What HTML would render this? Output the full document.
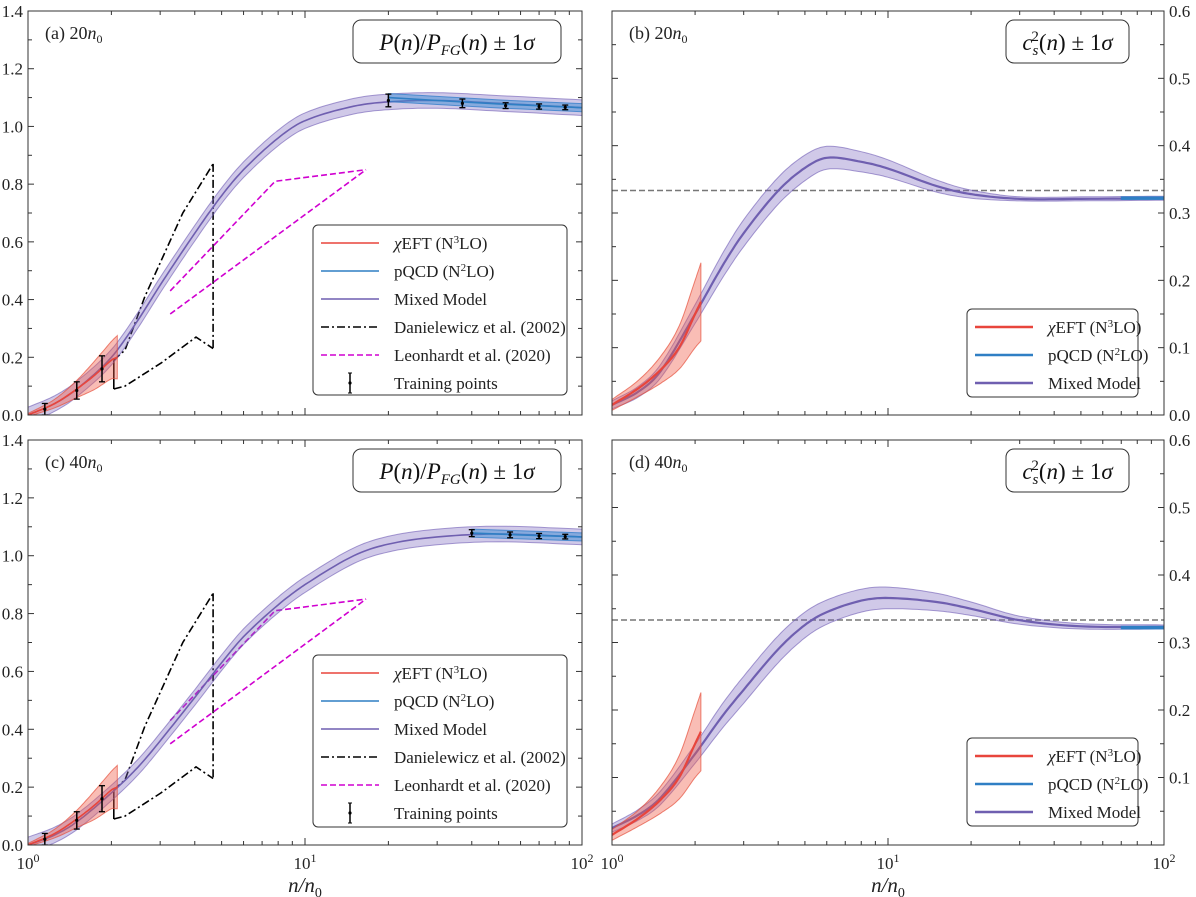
<!DOCTYPE html>
<html><head><meta charset="utf-8">
<style>
body{margin:0;background:#fff;}
svg{display:block;font-family:"Liberation Serif",serif;}
</style></head>
<body>
<svg id="fig" width="1196" height="897" viewBox="0 0 1196 897" xmlns="http://www.w3.org/2000/svg"></svg>
<script>
// ---------- data ----------
const nGrid = [1,1.25,1.5,2,2.5,3,4,5,6,8,10,15,20,30,50,100];
const mixedA = [0,0.04,0.09,0.2,0.33,0.45,0.63,0.76,0.85,0.96,1.02,1.07,1.085,1.09,1.08,1.065];
const mixedC = [0,0.035,0.08,0.18,0.27,0.36,0.51,0.63,0.72,0.83,0.9,1.0,1.04,1.065,1.075,1.065];
const mixedB = [0.015,0.035,0.065,0.15,0.22,0.27,0.333,0.367,0.382,0.376,0.366,0.34,0.328,0.321,0.321,0.322];
const mixedD = [0.025,0.045,0.07,0.135,0.19,0.23,0.29,0.326,0.345,0.362,0.366,0.36,0.35,0.333,0.324,0.323];
const errP = 0.027;
const errCsB = [0.006,0.008,0.01,0.014,0.018,0.02,0.02,0.019,0.017,0.015,0.013,0.009,0.006,0.003,0.003,0.003];
const errCsD = [0.006,0.008,0.01,0.014,0.018,0.02,0.02,0.019,0.018,0.017,0.016,0.013,0.01,0.006,0.004,0.003];
const eftN = [1,1.25,1.5,1.75,2,2.1];
const eftP = [0,0.04,0.09,0.14,0.19,0.2];
const eftPErr = [0.005,0.015,0.03,0.05,0.065,0.075];
const eftCs = [0.015,0.04,0.067,0.1,0.15,0.168];
const eftCsErr = [0.008,0.012,0.02,0.032,0.05,0.058];
const pqN_A = [20,30,50,100];
const pqP_A = [1.1,1.09,1.078,1.065];
const pqN_C = [40,60,100];
const pqP_C = [1.078,1.072,1.065];
const pqCsN = [70,100];
const pqCs = [0.322,0.322];
const trainN_A = [1.15,1.5,1.85,20,37,53,70,87];
const trainN_C = [1.15,1.5,1.85,40,55,70,87];
const trainP_A = [0.02,0.085,0.16,1.09,1.08,1.072,1.069,1.066];
const trainP_C = [0.02,0.085,0.16,1.078,1.072,1.068,1.066];
const trainErr_A = [0.02,0.03,0.045,0.022,0.015,0.01,0.009,0.008];
const trainErr_C = [0.02,0.03,0.045,0.012,0.01,0.009,0.008];
const danUpN = [2.04,2.24,2.64,3.62,4.66];
const danUpP = [0.19,0.225,0.41,0.70,0.87];
const danLoN = [2.04,2.24,3.02,4.04,4.66];
const danLoP = [0.09,0.1,0.18,0.27,0.23];
const leoUpN = [3.26,7.8,16.6];
const leoUpP = [0.43,0.81,0.85];
const leoLoN = [3.26,16.6];
const leoLoP = [0.35,0.85];
const yTicksP = [0,0.2,0.4,0.6,0.8,1.0,1.2,1.4];
const yTicksCsB = [0,0.1,0.2,0.3,0.4,0.5,0.6];
const yTicksCsD = [0.1,0.2,0.3,0.4,0.5,0.6];

const NS="http://www.w3.org/2000/svg";
const svg=document.getElementById('fig');
function mk(tag,attrs,parent){const e=document.createElementNS(NS,tag);for(const k in attrs)e.setAttribute(k,attrs[k]);(parent||svg).appendChild(e);return e;}

const RED="#e8453c",BLUE="#2f7fc4",PUR="#6f5fb0";

function dense(ns,vs){const on=[],ov=[];for(let i=0;i<ns.length-1;i++){const a=Math.log10(ns[i]),b=Math.log10(ns[i+1]);const m0=i>0?(vs[i+1]-vs[i-1])/(Math.log10(ns[i+1])-Math.log10(ns[i-1])):(vs[1]-vs[0])/(b-a);const m1=i<ns.length-2?(vs[i+2]-vs[i])/(Math.log10(ns[i+2])-a):(vs[i+1]-vs[i])/(b-a);for(let k=0;k<10;k++){const t=k/10,h=b-a;const h00=2*t*t*t-3*t*t+1,h10=t*t*t-2*t*t+t,h01=-2*t*t*t+3*t*t,h11=t*t*t-t*t;on.push(Math.pow(10,a+t*h));ov.push(h00*vs[i]+h10*h*m0+h01*vs[i+1]+h11*h*m1);}}on.push(ns[ns.length-1]);ov.push(vs[vs.length-1]);return [on,ov];}

function panel(P){
  const g=mk('g',{});
  
  
  const X=n=>P.x0+(P.x1-P.x0)*Math.log10(n)/2;
  const Y=v=>P.y1-(P.y1-P.y0)*(v-P.ymin)/(P.ymax-P.ymin);
  const clip='c'+P.name;
  const cp=mk('clipPath',{id:clip},g);mk('rect',{x:P.x0,y:P.y0,width:P.x1-P.x0,height:P.y1-P.y0},cp);
  const pg=mk('g',{'clip-path':`url(#${clip})`},g);
  function line(ns,vs,attrs,name){const d=ns.map((n,i)=>(i?'L':'M')+X(n).toFixed(1)+','+Y(vs[i]).toFixed(1)).join('');const p=mk('path',Object.assign({d,fill:'none'},attrs),pg);return p;}
  function band(ns,vs,err,attrs,name){const e=Array.isArray(err)?err:ns.map(()=>err);let d=ns.map((n,i)=>(i?'L':'M')+X(n).toFixed(1)+','+Y(vs[i]+e[i]).toFixed(1)).join('');for(let i=ns.length-1;i>=0;i--)d+='L'+X(ns[i]).toFixed(1)+','+Y(vs[i]-e[i]).toFixed(1);d+='Z';const p=mk('path',Object.assign({d},attrs),pg);return p;}
  if(P.dashed13){const l=mk('line',{x1:P.x0,x2:P.x1,y1:Y(1/3),y2:Y(1/3),stroke:'#777','stroke-width':1.5,'stroke-dasharray':'6,3'},pg);}
  if(P.dan){line(danUpN,danUpP,{stroke:'#000','stroke-width':1.6,'stroke-dasharray':'8,3,2,3'},'danielewicz-upper');line(danLoN,danLoP,{stroke:'#000','stroke-width':1.6,'stroke-dasharray':'8,3,2,3'},'danielewicz-lower');line([danUpN[0],danLoN[0]],[danUpP[0],danLoP[0]],{stroke:'#000','stroke-width':1.6},'danielewicz-left');line([danUpN[4],danLoN[4]],[danUpP[4],danLoP[4]],{stroke:'#000','stroke-width':1.6,'stroke-dasharray':'8,3,2,3'},'danielewicz-right');
    line(leoUpN,leoUpP,{stroke:'#d000d0','stroke-width':1.6,'stroke-dasharray':'6,3'},'leonhardt-upper');line(leoLoN,leoLoP,{stroke:'#d000d0','stroke-width':1.6,'stroke-dasharray':'6,3'},'leonhardt-lower');}
  const [dn,dv]=dense(nGrid,P.mixed);
  let de;
  if(Array.isArray(P.err)){de=dense(nGrid,P.err)[1];}else{de=P.err;}
  band(dn,dv,de,{fill:'rgba(120,100,190,0.35)',stroke:'rgba(110,90,180,0.6)','stroke-width':1},'mixed-band');
  line(dn,dv,{stroke:PUR,'stroke-width':P.cs?2.2:1.6},'mixed-line');
  const [en,ev]=dense(eftN,P.eftV);const ee=dense(eftN,P.eftE)[1];
  band(en,ev,ee,{fill:'rgba(240,90,70,0.4)',stroke:'rgba(230,80,60,0.7)','stroke-width':1},'eft-band');
  line(en,ev,{stroke:RED,'stroke-width':P.cs?2.2:1.6},'eft-line');
  if(P.pqN){band(P.pqN,P.pqV,P.cs?0.002:0.014,{fill:'rgba(60,140,210,0.5)',stroke:'rgba(40,120,200,0.7)','stroke-width':1},'pqcd-band');line(P.pqN,P.pqV,{stroke:BLUE,'stroke-width':P.cs?3:1.6},'pqcd-line');}
  if(P.trainN){P.trainN.forEach((n,i)=>{const x=X(n),yt=Y(P.trainV[i]+P.trainE[i]),yb=Y(P.trainV[i]-P.trainE[i]);const tg=mk('g',{},pg);mk('line',{x1:x,x2:x,y1:yt,y2:yb,stroke:'#000','stroke-width':1.5},tg);mk('line',{x1:x-3,x2:x+3,y1:yt,y2:yt,stroke:'#000','stroke-width':1.3},tg);mk('line',{x1:x-3,x2:x+3,y1:yb,y2:yb,stroke:'#000','stroke-width':1.3},tg);mk('circle',{cx:x,cy:Y(P.trainV[i]),r:1.6,fill:'#000'},tg);});}
  const fr=mk('rect',{x:P.x0,y:P.y0,width:P.x1-P.x0,height:P.y1-P.y0,fill:'none',stroke:'#333','stroke-width':1},g);
  for(let d=0;d<2;d++)for(let m=1;m<10;m++){const x=X(Math.pow(10,d)*m);const L=m==1?7:4;mk('line',{x1:x,x2:x,y1:P.y1,y2:P.y1-L,stroke:'#333'},g);mk('line',{x1:x,x2:x,y1:P.y0,y2:P.y0+L,stroke:'#333'},g);}
  if(P.xlabels){[0,1,2].forEach(e=>{const t=mk('text',{x:X(Math.pow(10,e)),y:P.y1+24,'text-anchor':'middle','font-size':17,fill:'#222'},g);t.innerHTML='10<tspan dy="-7" font-size="12">'+e+'</tspan>';});
    const xl=mk('text',{x:(P.x0+P.x1)/2,y:P.y1+47,'text-anchor':'middle','font-size':21,'font-style':'italic',fill:'#222'},g);xl.innerHTML='n/n<tspan dy="5" font-size="14" font-style="normal">0</tspan>';}
  const step=P.cs?0.05:0.1;
  for(let v=P.ymin;v<=P.ymax+1e-9;v+=step){const y=Y(v);const maj=P.yTicks.some(t=>Math.abs(t-v)<1e-6);const L=maj?6:4;mk('line',{x1:P.x0,x2:P.x0+L,y1:y,y2:y,stroke:'#333'},g);mk('line',{x1:P.x1,x2:P.x1-L,y1:y,y2:y,stroke:'#333'},g);}
  P.yTicks.forEach(v=>{const t=mk('text',{x:P.cs?P.x1+5:P.x0-5,y:Y(v)+6,'text-anchor':P.cs?'start':'end','font-size':17,fill:'#222'},g);t.textContent=v.toFixed(1);});
  const pl=mk('text',{x:P.x0+17,y:P.y0+28,'font-size':18,fill:'#222'},g);pl.innerHTML=P.label+' '+P.dens+'<tspan font-style="italic">n</tspan><tspan dy="4" font-size="12">0</tspan>';
  const tb=mk('rect',{x:P.tbx,y:P.y0+9,width:P.tbw,height:43,rx:8,fill:'#fff',stroke:'#333','stroke-width':1},g);
  const tt=mk('text',{x:P.tbx+P.tbw/2,y:P.y0+39,'text-anchor':'middle','font-size':23,fill:'#111'},g);
  tt.innerHTML=P.cs?'<tspan font-style="italic">c</tspan><tspan dy="5" font-size="15" font-style="italic">s</tspan><tspan dy="-14" dx="-7" font-size="15">2</tspan><tspan dy="9">(</tspan><tspan font-style="italic">n</tspan>) ± 1<tspan font-style="italic">σ</tspan>':'<tspan font-style="italic">P</tspan>(<tspan font-style="italic">n</tspan>)/<tspan font-style="italic">P</tspan><tspan dy="5" font-size="15" font-style="italic">FG</tspan><tspan dy="-5">(</tspan><tspan font-style="italic">n</tspan>) ± 1<tspan font-style="italic">σ</tspan>';
  const lg=mk('g',{},g);
  mk('rect',{x:P.lx,y:P.ly,width:P.lw,height:P.lh,rx:5,fill:'#fff',stroke:'#333','stroke-width':1},lg);
  const ents=[['line',RED,'<tspan font-style="italic">χ</tspan>EFT (N<tspan dy="-6" font-size="11">3</tspan><tspan dy="6">LO)</tspan>','legend-eft'],['line',BLUE,'pQCD (N<tspan dy="-6" font-size="11">2</tspan><tspan dy="6">LO)</tspan>','legend-pqcd'],['line',PUR,'Mixed Model','legend-mixed']];
  if(!P.cs){ents.push(['dashdot','#000','Danielewicz et al. (2002)','legend-danielewicz'],['dash','#d000d0','Leonhardt et al. (2020)','legend-leonhardt'],['err','#000','Training points','legend-training']);}
  ents.forEach((e,i)=>{const y=P.ly+18+i*28;const eg=mk('g',{},lg);const lx=P.lx+8;
    if(e[0]=='err'){mk('line',{x1:lx+29,x2:lx+29,y1:y-10,y2:y+10,stroke:'#000','stroke-width':1.5},eg);mk('circle',{cx:lx+29,cy:y,r:1.6},eg);mk('line',{x1:lx+27,x2:lx+31,y1:y-10,y2:y-10,stroke:'#000'},eg);mk('line',{x1:lx+27,x2:lx+31,y1:y+10,y2:y+10,stroke:'#000'},eg);}
    else mk('line',{x1:lx,x2:lx+58,y1:y,y2:y,stroke:e[1],'stroke-width':P.cs?2.5:1.6,'stroke-dasharray':e[0]=='dashdot'?'8,3,2,3':e[0]=='dash'?'6,3':'none'},eg);
    const t=mk('text',{x:lx+73,y:y+6,'font-size':17,fill:'#222'},eg);t.innerHTML=e[2];});
}
panel({name:'panel-a',x0:28,x1:582,y0:11,y1:415,ymin:0,ymax:1.4,yTicks:yTicksP,mixed:mixedA,err:errP,eftV:eftP,eftE:eftPErr,pqN:pqN_A,pqV:pqP_A,trainN:trainN_A,trainV:trainP_A,trainE:trainErr_A,dan:true,label:'(a)',dens:'20',tbx:353,tbw:208,lx:313,ly:225,lw:254,lh:170});
panel({name:'panel-b',x0:612,x1:1164,y0:11,y1:415,ymin:0,ymax:0.6,yTicks:yTicksCsB,cs:true,mixed:mixedB,err:errCsB,eftV:eftCs,eftE:eftCsErr,pqN:pqCsN,pqV:pqCs,dashed13:true,label:'(b)',dens:'20',tbx:1006,tbw:123,lx:967,ly:309,lw:171,lh:88});
panel({name:'panel-c',x0:28,x1:582,y0:440,y1:845,ymin:0,ymax:1.4,yTicks:yTicksP,mixed:mixedC,err:errP,eftV:eftP,eftE:eftPErr,pqN:pqN_C,pqV:pqP_C,trainN:trainN_C,trainV:trainP_C,trainE:trainErr_C,dan:true,label:'(c)',dens:'40',tbx:353,tbw:208,lx:313,ly:655,lw:254,lh:172,xlabels:true});
panel({name:'panel-d',x0:612,x1:1164,y0:440,y1:845,ymin:0,ymax:0.6,yTicks:yTicksCsD,cs:true,mixed:mixedD,err:errCsD,eftV:eftCs,eftE:eftCsErr,pqN:pqCsN,pqV:pqCs,dashed13:true,label:'(d)',dens:'40',tbx:1006,tbw:123,lx:967,ly:738,lw:171,lh:88,xlabels:true});
</script>
</body></html>
